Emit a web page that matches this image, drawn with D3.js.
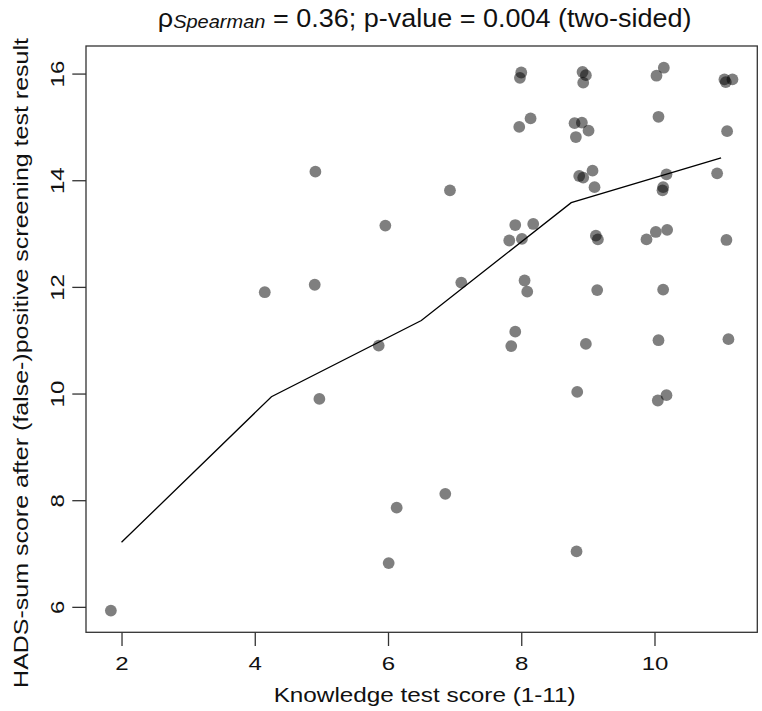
<!DOCTYPE html>
<html>
<head>
<meta charset="utf-8">
<script src="https://cdn.jsdelivr.net/npm/d3@7"></script>
<style>
  body { margin: 0; background: #fff; }
  svg { display: block; }
</style>
</head>
<body>
<svg id="chart" width="762" height="711"></svg>
<script>
// jittered knowledge score (x) and HADS-sum score (y), one entry per respondent
var knowledge = [8.00, 7.98, 8.92, 8.97, 8.93, 10.14, 10.03, 11.05, 11.07, 11.17,
  7.97, 8.14, 8.80, 8.91, 9.01, 8.82, 10.06, 11.09,
  4.91, 9.07, 8.87, 8.93, 9.10, 10.18, 10.13, 10.12, 10.94, 6.93,
  5.96, 7.91, 8.18, 7.82, 8.01, 9.12, 9.15, 9.88, 10.02, 10.19, 11.08,
  4.15, 4.90, 7.10, 8.05, 8.09, 9.14, 10.13,
  5.86, 7.91, 7.85, 8.97, 10.06, 11.11,
  4.97, 8.84, 10.05, 10.18,
  6.13, 6.86, 8.83, 6.01, 1.84];
var hads = [16.02, 15.92, 16.03, 15.97, 15.83, 16.11, 15.96, 15.89, 15.84, 15.89,
  15.00, 15.16, 15.07, 15.08, 14.93, 14.81, 15.19, 14.92,
  14.16, 14.18, 14.08, 14.05, 13.87, 14.11, 13.87, 13.81, 14.13, 13.81,
  13.15, 13.16, 13.18, 12.87, 12.90, 12.96, 12.89, 12.89, 13.03, 13.07, 12.88,
  11.90, 12.04, 12.08, 12.12, 11.91, 11.94, 11.95,
  10.90, 11.16, 10.89, 10.93, 11.00, 11.02,
  9.90, 10.03, 9.87, 9.97,
  7.86, 8.12, 7.04, 6.82, 5.93];

// smoother
var smoothX = [2, 4.25, 6.5, 8.75, 11];
var smoothY = [7.21, 9.94, 11.37, 13.58, 14.42];

var xTicks = [2, 4, 6, 8, 10];
var yTicks = [6, 8, 10, 12, 14, 16];

var titleRho = "\u03c1";
var titleSub = "Spearman";
var titleRest = " = 0.36; p-value = 0.004 (two-sided)";
var xLabel = "Knowledge test score (1-11)";
var yLabel = "HADS-sum score after (false-)positive screening test result";

function init(){

  var margin = {top: 46, right: 4.7, bottom: 78.7, left: 86};
  var width = 762 - margin.left - margin.right;
  var height = 711 - margin.top - margin.bottom;
  var font = "'Liberation Sans', Arial, Helvetica, sans-serif";
  var squash = 0.8;   // the reference text is wide and flat

  var svg = d3.select("#chart");
  var g = svg.append("g").attr("transform", "translate(" + margin.left + "," + margin.top + ")");

  // R style range: data extent padded by 4% on both ends
  function pad(ext){
    var d = (ext[1] - ext[0]) * 0.04;
    return [ext[0] - d, ext[1] + d];
  }

  var x = d3.scaleLinear().domain(pad(d3.extent(knowledge))).range([0, width]);
  var y = d3.scaleLinear().domain(pad(d3.extent(hads))).range([height, 0]);

  //x axis
  var xAxis = g.append("g")
    .attr("transform", "translate(0," + height + ")")
    .call(d3.axisBottom(x).tickValues(xTicks).tickSize(13.7).tickSizeOuter(0).tickFormat(d3.format("d")));
  xAxis.select(".domain").remove();
  xAxis.selectAll("line").attr("stroke", "#333").attr("stroke-width", 1.3);
  xAxis.selectAll("text")
    .attr("y", null).attr("dy", null)
    .attr("transform", "translate(0,38) scale(1," + squash + ")")
    .attr("text-anchor", "middle")
    .attr("fill", "#111")
    .style("font", "24px " + font);

  //y axis
  var yAxis = g.append("g")
    .call(d3.axisLeft(y).tickValues(yTicks).tickSize(13.7).tickSizeOuter(0).tickFormat(d3.format("d")));
  yAxis.select(".domain").remove();
  yAxis.selectAll("line").attr("stroke", "#333").attr("stroke-width", 1.3);
  yAxis.selectAll("text")
    .attr("x", null).attr("dy", null)
    .attr("transform", "translate(-22,0) rotate(-90) scale(1," + squash + ")")
    .attr("text-anchor", "middle")
    .attr("fill", "#111")
    .style("font", "24px " + font);

  // box round the plot
  g.append("rect")
    .attr("width", width)
    .attr("height", height)
    .attr("fill", "none")
    .attr("stroke", "#333")
    .attr("stroke-width", 1.3);

  // the points, half transparent black
  g.append("g")
    .selectAll("circle")
    .data(knowledge)
    .enter().append("circle")
      .attr("cx", function(d) { return x(d); })
      .attr("cy", function(d, i) { return y(hads[i]); })
      .attr("r", 5.9)
      .attr("fill", "#000")
      .attr("fill-opacity", 0.5);

  // smoother line
  var line = d3.line()
    .x(function(d) { return x(d); })
    .y(function(d, i) { return y(smoothY[i]); });

  g.append("path")
    .datum(smoothX)
    .attr("d", line)
    .attr("fill", "none")
    .attr("stroke", "#000")
    .attr("stroke-width", 1.3);

  //x axis label
  g.append("text")
    .attr("transform", "translate(" + (width/2 + 3) + "," + (height + 69.4) + ") scale(1," + squash + ")")
    .attr("text-anchor", "middle")
    .attr("fill", "#111")
    .style("font", "24.3px " + font)
    .text(xLabel);

  //y axis label
  svg.append("text")
    .attr("transform", "translate(28,363) rotate(-90) scale(1," + squash + ")")
    .attr("text-anchor", "middle")
    .attr("fill", "#111")
    .style("font", "25px " + font)
    .text(yLabel);

  // title with subscript
  var title = svg.append("text")
    .attr("transform", "translate(" + (margin.left + width/2 + 3) + ",26.5) scale(1,0.95)")
    .attr("text-anchor", "middle")
    .attr("fill", "#111")
    .style("font", "27px " + font);
  title.append("tspan").text(titleRho);
  title.append("tspan")
    .attr("dy", 2)
    .style("font-style", "italic")
    .style("font-size", "20px")
    .text(titleSub);
  title.append("tspan")
    .attr("dy", -2)
    .text(titleRest);
}

window.onload = init;
</script>
</body>
</html>
